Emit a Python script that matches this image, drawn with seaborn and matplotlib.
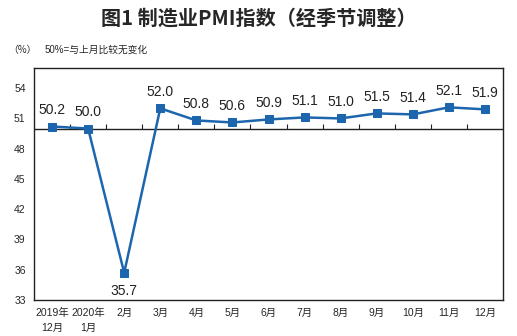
import numpy as np
import pandas as pd
import matplotlib
matplotlib.use("Agg")
import matplotlib.pyplot as plt
import seaborn as sns

months = ["2019年\n12月", "2020年\n1月", "2月", "3月", "4月", "5月", "6月",
          "7月", "8月", "9月", "10月", "11月", "12月"]
pmi = [50.2, 50.0, 35.7, 52.0, 50.8, 50.6, 50.9, 51.1, 51.0, 51.5, 51.4, 52.1, 51.9]
yticks = [33, 36, 39, 42, 45, 48, 51, 54]

sns.set_style("white")
plt.rcParams['font.family'] = ['Liberation Sans', 'Noto Sans CJK SC', 'DejaVu Sans']

df = pd.DataFrame({"idx": np.arange(len(months)), "pmi": pmi})

fig = plt.figure(figsize=(5.17, 3.36), dpi=100)
ax = fig.add_axes([34/517, 36/336, (503-34)/517, (300-68)/336])
color = "#1d66ae"
sns.lineplot(data=df, x="idx", y="pmi", ax=ax, color=color, linewidth=1.8,
             marker="s", markersize=5.5, markeredgecolor=color, markerfacecolor=color)

ax.set_xlim(-0.5, len(months) - 0.5)
ax.set_ylim(33, 56)
ax.set_yticks(yticks)
ax.set_yticklabels([str(v) for v in yticks], fontsize=7.5)
ax.set_xticks(np.arange(len(months)))
ax.set_xticklabels(months, fontsize=7.5, linespacing=1.6)
ax.tick_params(axis="both", length=0, pad=6)
ax.set_xlabel("")
ax.set_ylabel("")
for s in ax.spines.values():
    s.set_color("#222222")
    s.set_linewidth(1)
ax.grid(False)

ax.axhline(50, color="#222222", linewidth=1, zorder=1)
ax.vlines(np.arange(0.5, len(months) - 0.5), 50, 50.4, color="#222222", linewidth=0.8, zorder=1)

for i, v in enumerate(pmi):
    if v < 40:
        ax.annotate(f"{v:.1f}", (i, v), xytext=(0, -8), textcoords="offset points",
                    ha="center", va="top", fontsize=10, color="#222222")
    else:
        ax.annotate(f"{v:.1f}", (i, v), xytext=(0, 7), textcoords="offset points",
                    ha="center", va="bottom", fontsize=10, color="#222222")

fig.text(0.5, 1 - 18/336, "图1 制造业PMI指数（经季节调整）", ha="center", va="center",
         fontsize=14.5, fontweight="bold", family=['Noto Sans CJK SC', 'DejaVu Sans'])
fig.text(8/517, 1 - 50/336, "（%）", ha="left", va="center", fontsize=7,
         family=['Noto Sans CJK SC', 'DejaVu Sans'])
fig.text(45/517, 1 - 50/336, "50%=与上月比较无变化", ha="left", va="center", fontsize=7,
         family=['Liberation Sans', 'Noto Sans CJK SC', 'DejaVu Sans'])

fig.savefig("out.png", dpi=100)
